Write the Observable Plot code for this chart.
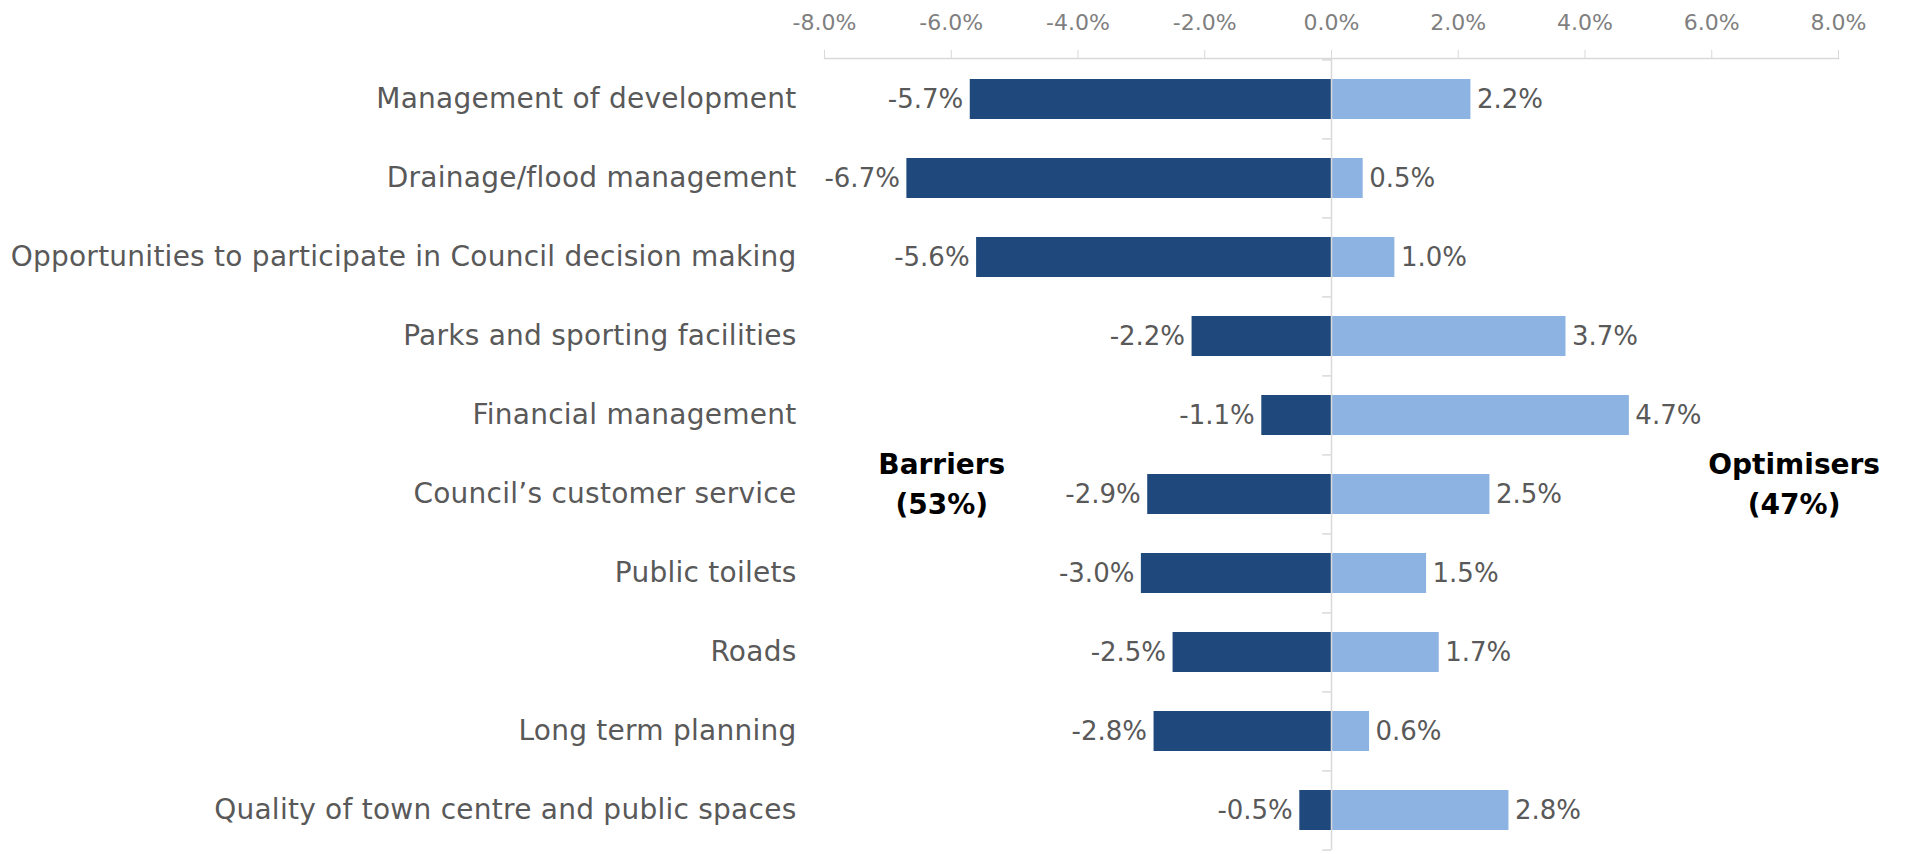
<!DOCTYPE html>
<html>
<head>
<meta charset="utf-8">
<script src="https://cdn.jsdelivr.net/npm/d3@7"></script>
<script src="https://cdn.jsdelivr.net/npm/@observablehq/plot@0.6"></script>
<style>
  html, body { margin: 0; padding: 0; background: #ffffff; }
  #chart svg { display: block; }
  #chart g[aria-label="y-axis tick label"] text { letter-spacing: 0.25px; }
</style>
</head>
<body>
<div id="chart"></div>
<script>
const categories = [
  "Management of development",
  "Drainage/flood management",
  "Opportunities to participate in Council decision making",
  "Parks and sporting facilities",
  "Financial management",
  "Council\u2019s customer service",
  "Public toilets",
  "Roads",
  "Long term planning",
  "Quality of town centre and public spaces"
];
const barriers = [-5.7, -6.7, -5.6, -2.2, -1.1, -2.9, -3.0, -2.5, -2.8, -0.5];
const optimisers = [2.2, 0.5, 1.0, 3.7, 4.7, 2.5, 1.5, 1.7, 0.6, 2.8];
const xTicks = [-8, -6, -4, -2, 0, 2, 4, 6, 8];
const groupLabels = ["Barriers\n(53%)", "Optimisers\n(47%)"];
const groupX = [-6.15, 7.3];
const groupRow = "Council\u2019s customer service";

const negData = categories.map((c, i) => ({cat: c, v: barriers[i]}));
const posData = categories.map((c, i) => ({cat: c, v: optimisers[i]}));
const annData = groupLabels.map((t, i) => ({t, x: groupX[i], cat: groupRow}));
const fmt = v => v.toFixed(1) + "%";

const FONT = "'Century Gothic', 'DejaVu Sans', sans-serif";
const W = 1906, H = 854, MT = 58, MB = 4;
const step = (H - MT - MB) / categories.length;

const chart = Plot.plot({
  width: W,
  height: H,
  marginTop: MT,
  marginBottom: MB,
  marginLeft: 824,
  marginRight: 68,
  style: {fontFamily: FONT, background: "#ffffff"},
  x: {domain: [-8, 8], ticks: xTicks, tickFormat: fmt, label: null},
  y: {domain: categories, paddingInner: 0.5, paddingOuter: 0.25, label: null},
  marks: [
    Plot.barX(negData, {x: "v", y: "cat", fill: "#1F497D"}),
    Plot.barX(posData, {x: "v", y: "cat", fill: "#8DB3E2"}),
    Plot.ruleX([0], {stroke: "#D9D9D9", strokeWidth: 1.5}),
    Plot.ruleY(categories, {y: d => d, x1: -0.14, x2: 0, dy: -step / 2, stroke: "#D9D9D9", strokeWidth: 1.5}),
    Plot.ruleY(categories.slice(-1), {y: d => d, x1: -0.14, x2: 0, dy: step / 2, stroke: "#D9D9D9", strokeWidth: 1.5}),
    Plot.frame({anchor: "top", stroke: "#D9D9D9", strokeWidth: 1.5}),
    Plot.axisX({anchor: "top", ticks: xTicks, tickFormat: fmt, tickSize: 9, tickPadding: 20,
      stroke: "#D9D9D9", fill: "#7F7F7F", fontSize: 22, label: null}),
    Plot.axisY({anchor: "left", tickSize: 0, tickPadding: 28, fill: "#595959", fontSize: 28, label: null}),
    Plot.text(negData, {x: "v", y: "cat", text: d => fmt(d.v), textAnchor: "end", dx: -7,
      fill: "#595959", fontSize: 26}),
    Plot.text(posData, {x: "v", y: "cat", text: d => fmt(d.v), textAnchor: "start", dx: 6,
      fill: "#595959", fontSize: 26}),
    Plot.text(annData, {x: "x", y: "cat", text: "t", dy: -13, fontSize: 28, fontWeight: "bold",
      fill: "#000000", lineHeight: 1.4, textAnchor: "middle"})
  ]
});
document.getElementById("chart").appendChild(chart);
</script>
</body>
</html>
